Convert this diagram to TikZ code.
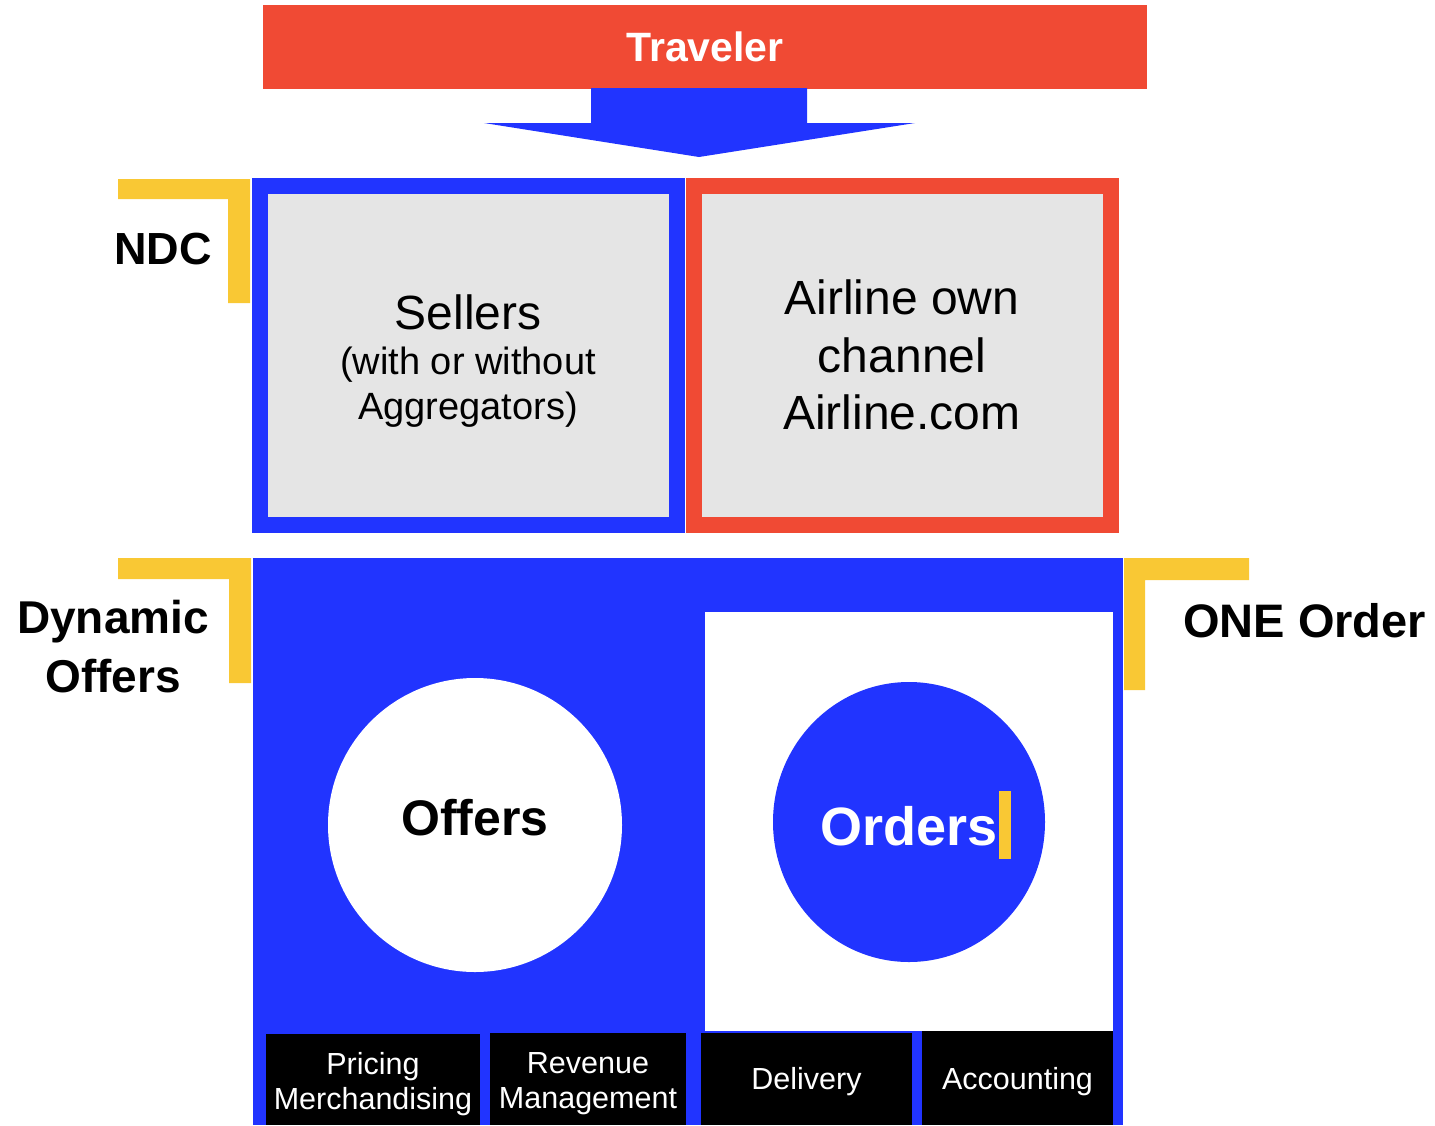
\documentclass[tikz,border=0pt]{standalone}
\usepackage{fontspec}
\setmainfont{Liberation Sans}
\usetikzlibrary{shapes.geometric}
\definecolor{cRed}{HTML}{F04A34}
\definecolor{cBlue}{HTML}{2134FF}
\definecolor{cYel}{HTML}{F9C834}
\definecolor{cGray}{HTML}{E5E5E5}
\begin{document}
\begin{tikzpicture}[x=1pt,y=-1pt,
  blk/.style={rectangle,inner sep=0pt,outer sep=0pt},
  chanbox/.style={blk,fill=cGray,line width=16pt,minimum width=417pt,minimum height=339pt},
  darkbox/.style={blk,fill=black},
  darktxt/.style={inner sep=0pt,text=white,align=center,font=\fontsize{30.5}{35}\selectfont},
  sidelabel/.style={inner sep=0pt,font=\bfseries\fontsize{46}{59}\selectfont,align=center},
  bracket/.style={fill=cYel,draw=none}]
\useasboundingbox (0,0) rectangle (1435,1125);
% Traveler
\node[blk,fill=cRed,minimum width=884pt,minimum height=84pt,text=white,font=\bfseries\fontsize{41}{41}\selectfont] (trav) at (705,47) {Traveler};
% block arrow
\coordinate (tip) at (699,157);
\fill[cBlue] (591,88) -- (807,88) -- (807,123) -- (915,123) -- (tip) -- (484,123) -- (591,123) -- cycle;
% channel boxes
\node[chanbox,draw=cBlue] (sellbox) at (468.5,355.5) {};
\node[chanbox,draw=cRed] (airbox) at (902.5,355.5) {};
\node[inner sep=0pt,align=center,font=\fontsize{38}{45}\selectfont] (selltxt) at (468,361)
  {{\fontsize{48}{45}\selectfont Sellers}\\(with or without\\Aggregators)};
\node[inner sep=0pt,align=center,font=\fontsize{48}{57.5}\selectfont] (airtxt) at (902,355)
  {Airline own\\channel\\Airline.com};
% big blue area
\node[blk,fill=cBlue,minimum width=870pt,minimum height=567pt] (core) at (688,841.5) {};
\node[blk,fill=white,minimum width=408pt,minimum height=419pt] (orderarea) at (909,821.5) {};
\node[circle,fill=white,inner sep=0pt,minimum size=294pt] (offc) at (475,825) {};
\node[inner sep=0pt,font=\bfseries\fontsize{50}{50}\selectfont] (offtxt) at (475,818) {Offers};
\node[ellipse,fill=cBlue,inner sep=0pt,minimum width=272pt,minimum height=280pt] (ordc) at (909,822) {};
\node[inner sep=0pt,text=white,font=\bfseries\fontsize{54}{54}\selectfont] (ordtxt) at (909,826) {Orders};
\node[blk,fill=cYel,minimum width=12pt,minimum height=68pt] (cursor) at (1005,825) {};
% bottom boxes
\node[darkbox,minimum width=214pt,minimum height=91pt] (b1) at (373,1079.5) {};
\node[darkbox,minimum width=196pt,minimum height=92pt] (b2) at (588,1079) {};
\node[darkbox,minimum width=211pt,minimum height=92pt] (b3) at (806.5,1079) {};
\node[darkbox,minimum width=191pt,minimum height=94pt] (b4) at (1017.5,1078) {};
\node[darktxt] (t1) at (373,1084.5) {Pricing\\Merchandising};
\node[darktxt] (t2) at (588,1083.5) {Revenue\\Management};
\node[darktxt] (t3) at (806.5,1082) {Delivery};
\node[darktxt] (t4) at (1017.5,1082) {Accounting};
% brackets
\fill[bracket] (118,179) -- (250,179) -- (250,303) -- (228,303) -- (228,199) -- (118,199) -- cycle;
\fill[bracket] (118,558) -- (251,558) -- (251,683) -- (229,683) -- (229,579) -- (118,579) -- cycle;
\fill[bracket] (1249,558) -- (1124,558) -- (1124,690) -- (1145,690) -- (1145,580) -- (1249,580) -- cycle;
% side labels
\node[sidelabel,anchor=east,font=\bfseries\fontsize{45}{45}\selectfont] (ndc) at (212,249) {NDC};
\node[sidelabel] (dyn) at (113,647) {Dynamic\\Offers};
\node[sidelabel,anchor=base west,font=\bfseries\fontsize{47}{47}\selectfont] (one) at (1183,637) {ONE Order};
\end{tikzpicture}
\end{document}
